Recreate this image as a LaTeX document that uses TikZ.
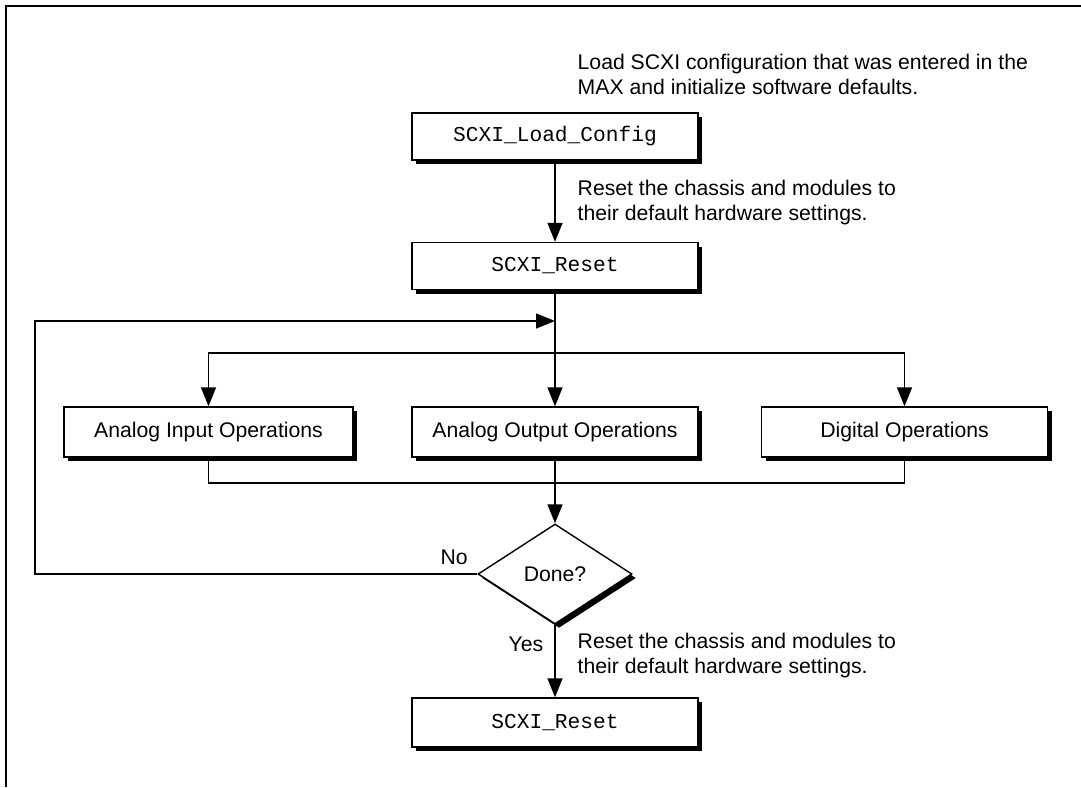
\documentclass[tikz,border=0pt]{standalone}
\usepackage{fontspec}
\setmainfont{Liberation Sans}
\setmonofont{Liberation Mono}
\usetikzlibrary{shapes.geometric,shadows,arrows.meta}

\begin{document}
\begin{tikzpicture}[x=0.5pt, y=-0.5pt, line width=0.7pt,
        font=\fontsize{10.6}{12.5}\selectfont,
        shade/.style={drop shadow={shadow xshift=2pt, shadow yshift=-2pt, fill=black, opacity=1}},
        box/.style={draw, fill=white, inner sep=0pt, minimum width=143pt, minimum height=23.5pt, shade},
        opbox/.style={box, minimum height=25pt},
        decide/.style={diamond, draw, fill=white, inner sep=0pt, minimum width=77pt, minimum height=50pt, shade},
        note/.style={anchor=west, align=left, inner sep=0pt},
        arr/.style={-{Triangle[length=9.5pt, width=7.5pt]}}]
        \useasboundingbox (0,0) rectangle (1081,787);

        % Frame
        \draw [line width=1.1pt] (1081,6) -| (6,787);

        % Setup calls
        \node [box] (cfg) at (555,136.5) {\ttfamily SCXI\_Load\_Config};
        \node [box] (rst) at (555,266) {\ttfamily SCXI\_Reset};
        \node [note] (ncfg) at (577,74.5) {Load SCXI configuration that was entered in the\\MAX and initialize software defaults.};
        \node [note] (nrst) at (577,202.5) {Reset the chassis and modules to\\their default hardware settings.};

        % Operations
        \node [opbox, minimum width=144.5pt] (ai) at (208.5,432) {Analog Input Operations};
        \node [opbox] (ao) at (555,432) {Analog Output Operations};
        \node [opbox] (dig) at (904.5,432) {Digital Operations};

        % Decision and final reset
        \node [decide] (done) at (555,574) {Done?};
        \node [box, minimum height=24.5pt] (fin) at (555,722.5) {\ttfamily SCXI\_Reset};
        \node [note] (nfin) at (577,656) {Reset the chassis and modules to\\their default hardware settings.};

        \coordinate (back) at (35,321);
        \coordinate (join) at (555,321);
        \coordinate (split) at (555,353);
        \coordinate (merge) at (555,483);

        % Connectors
        \draw [arr] (cfg) -- (rst);
        \draw [arr] (rst) -- (ao);
        \draw [arr] (split) -| (ai.north);
        \draw [arr] (split) -| (dig.north);
        \draw (ai.south) |- (merge);
        \draw (dig.south) |- (merge);
        \draw [arr] (ao) -- (done);
        \draw [arr] (done.west) -| (back) node [pos=0, above left, inner sep=4.5pt] {No} -- (join);
        \draw [arr] (done) -- (fin) node [pos=0.27, left, inner sep=5.5pt] {Yes};
    \end{tikzpicture}
\end{document}
